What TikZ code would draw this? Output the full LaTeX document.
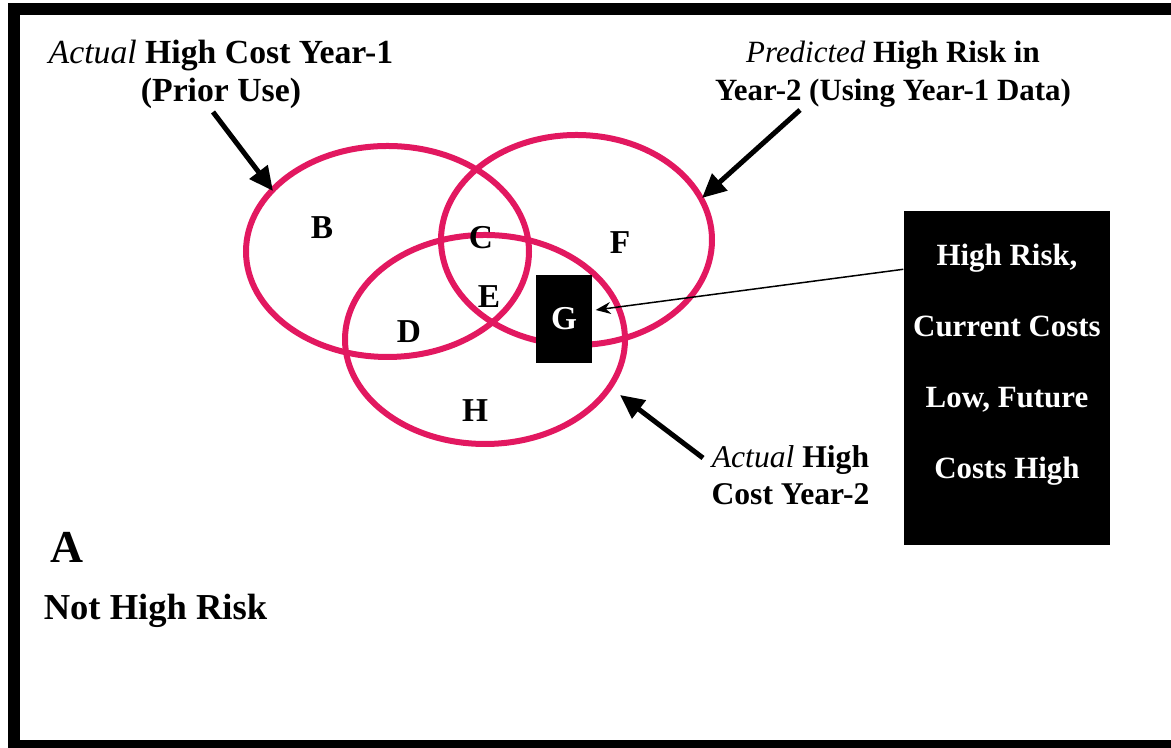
\documentclass[tikz,border=0pt]{standalone}
\usepackage{fontspec}
\setmainfont{Liberation Serif}
\definecolor{rose}{RGB}{226,24,96}
\usetikzlibrary{arrows.meta,positioning}

\begin{document}
\begin{tikzpicture}[font=\bfseries,
	contour/.style={rose,line width=0.06cm},
	lettre/.style={font=\fontsize{9.5}{11}\selectfont\bfseries,inner sep=1pt},
	grossefleche/.style={line width=0.05cm,-{Triangle[length=0.24cm,width=0.22cm]}},
	legende/.style={align=center,inner sep=0pt}]
	\useasboundingbox (0,0) rectangle (11.71,7.48);
	%% cadre (ouvert a droite)
	\draw[line width=0.12cm] (11.8,7.385) -- (0.14,7.385) -- (0.14,0.02) -- (11.8,0.02);
	
	%% les trois ellipses
	\draw[contour] (3.875,4.965) ellipse (1.415 and 1.055);
	\draw[contour] (5.765,5.08) ellipse (1.355 and 1.05);
	\draw[contour] (4.85,4.085) ellipse (1.40 and 1.045);
	
	%% regions
	\node[lettre] (b) at (3.22,5.20) {B};
	\node[lettre] (c) at (4.81,5.10) {C};
	\node[lettre] (f) at (6.20,5.05) {F};
	\node[lettre] (e) at (4.89,4.51) {E};
	\node[lettre] (d) at (4.09,4.16) {D};
	\node[lettre] (h) at (4.75,3.37) {H};
	\node[lettre,fill=black,text=white,minimum width=0.56cm,minimum height=0.88cm] (g) at (5.64,4.29) {G};
	
	%% legendes
	\node[legende,font=\fontsize{9.6}{10.8}\selectfont\bfseries] (annee1) at (2.21,6.74)
	{{\mdseries\itshape Actual} High Cost Year-1\\(Prior Use)};
	\node[legende,font=\fontsize{8.8}{10.8}\selectfont\bfseries] (prevu) at (8.93,6.74)
	{{\mdseries\itshape Predicted} High Risk in\\Year-2 (Using Year-1 Data)};
	\node[legende,font=\fontsize{9}{10.4}\selectfont\bfseries] (annee2) at (7.905,2.73)
	{{\mdseries\itshape Actual} High\\Cost Year-2};
	\node[font=\fontsize{13}{15}\selectfont\bfseries] (a) at (0.67,2.01) {A};
	\node[font=\fontsize{10.4}{12}\selectfont\bfseries] (pasrisque) at (1.555,1.37) {Not High Risk};
	
	%% encadre noir
	\node[fill=black,minimum width=2.06cm,minimum height=3.34cm,inner sep=0pt] (risque) at (10.07,3.70) {};
	\node[legende,text=white,font=\fontsize{8.8}{20.2}\selectfont\bfseries] (texterisque) at (10.07,3.83)
	{High Risk,\\Current Costs\\Low, Future\\Costs High};
	
	%% fleches
	\coordinate (queue1) at (2.13,6.36);
	\coordinate (pointe1) at (2.73,5.57);
	\coordinate (queue2) at (8.00,6.38);
	\coordinate (pointe2) at (7.02,5.50);
	\coordinate (queue3) at (7.03,2.90);
	\coordinate (pointe3) at (6.20,3.53);
	\draw[grossefleche] (queue1) -- (pointe1);
	\draw[grossefleche] (queue2) -- (pointe2);
	\draw[grossefleche] (queue3) -- (pointe3);
	\draw[line width=0.015cm,-{Stealth[length=0.15cm,width=0.12cm]}]
	([yshift=-0.59cm]risque.north west) -- ([shift={(0.03,0.09)}]g.east);
\end{tikzpicture}
\end{document}
